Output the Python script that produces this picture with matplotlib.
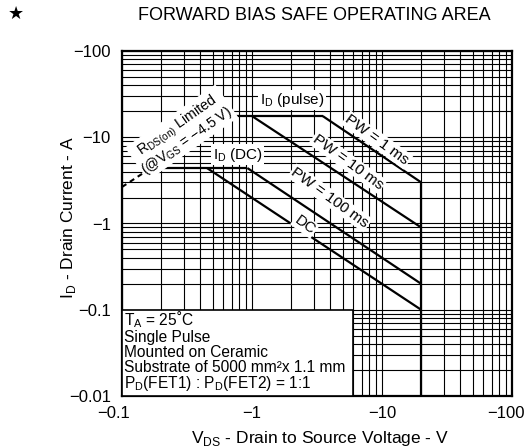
import matplotlib
matplotlib.use("Agg")
import matplotlib.pyplot as plt
import matplotlib.transforms as mtransforms
import numpy as np
from matplotlib.ticker import LogLocator, NullFormatter, FixedLocator, FixedFormatter
from matplotlib.patches import Rectangle

plt.rcParams['font.family'] = ['Liberation Sans', 'DejaVu Sans']
plt.rcParams['mathtext.fontset'] = 'custom'
plt.rcParams['mathtext.rm'] = 'Liberation Sans'

# ---- data (V in volts, I in amperes; negative as on the datasheet) ----
rds_v = [-0.1, -0.68]
rds_i = [-2.65, -17.6]

pulse_v = [-0.68, -3.5]
pulse_i = [-17.6, -17.6]

pw1_v = [-3.5, -20.0]
pw1_i = [-17.6, -3.0]

pw10_v = [-1.0, -20.0]
pw10_i = [-17.6, -0.9]

iddc_v = [-0.17, -0.92]
iddc_i = [-4.4, -4.4]

pw100_v = [-0.92, -20.0]
pw100_i = [-4.4, -0.2]

dc_v = [-0.45, -20.0]
dc_i = [-4.4, -0.1]

vdss_v = [-20.0, -20.0]
vdss_i = [-3.0, -0.01]

x_ticks = [-0.1, -1, -10, -100]
x_ticklabels = ['\u22120.1', '\u22121', '\u221210', '\u2212100']
y_ticks = [-0.01, -0.1, -1, -10, -100]
y_ticklabels = ['\u22120.01', '\u22120.1', '\u22121', '\u221210', '\u2212100']

note_lines = [r'T$_\mathregular{A}$ = 25˚C',
              'Single Pulse',
              'Mounted on Ceramic',
              'Substrate of 5000 mm²x 1.1 mm',
              r'P$_\mathregular{D}$(FET1) : P$_\mathregular{D}$(FET2) = 1:1']

W, H = 529, 448
fig = plt.figure(figsize=(W / 100, H / 100), dpi=100)
ax = fig.add_axes([122 / W, 1 - 396 / H, 390 / W, 345 / H])

ax.set_xscale('log')
ax.set_yscale('log')
ax.set_xlim(0.1, 100)
ax.set_ylim(0.01, 100)

def A(a):
    return -np.asarray(a, dtype=float)

lw = 1.6
ax.plot(A(rds_v), A(rds_i), color='black', lw=1.5, ls=(0, (2.5, 2)), zorder=4)
for v, i in [(pulse_v, pulse_i), (pw1_v, pw1_i), (pw10_v, pw10_i),
             (iddc_v, iddc_i), (pw100_v, pw100_i), (dc_v, dc_i), (vdss_v, vdss_i)]:
    ax.plot(A(v), A(i), color='black', lw=lw, solid_capstyle='butt', zorder=4)

# grid
ax.xaxis.set_minor_locator(LogLocator(base=10, subs=np.arange(2, 10)))
ax.yaxis.set_minor_locator(LogLocator(base=10, subs=np.arange(2, 10)))
ax.xaxis.set_minor_formatter(NullFormatter())
ax.yaxis.set_minor_formatter(NullFormatter())
ax.xaxis.set_major_locator(FixedLocator(A(x_ticks)))
ax.xaxis.set_major_formatter(FixedFormatter(x_ticklabels))
ax.yaxis.set_major_locator(FixedLocator(A(y_ticks)))
ax.yaxis.set_major_formatter(FixedFormatter(y_ticklabels))
ax.grid(which='both', color='black', lw=0.8, zorder=1)
ax.set_axisbelow(True)
ax.tick_params(which='both', length=0, labelsize=12)
ax.tick_params(axis='x', pad=7)
ax.tick_params(axis='y', pad=8)
for s in ax.spines.values():
    s.set_linewidth(1.6)

# nudge the end x tick labels inward, as on the datasheet
xticks_objs = ax.xaxis.get_major_ticks()
for tk, dx in [(xticks_objs[0], -8), (xticks_objs[-1], -6)]:
    lab = tk.label1
    lab.set_transform(lab.get_transform() +
                      mtransforms.ScaledTranslation(dx / 100, 0, fig.dpi_scale_trans))

# note box
ax.add_patch(Rectangle((0, 0), 0.592, 0.249, transform=ax.transAxes,
                       facecolor='white', edgecolor='black', lw=1.2, zorder=5))
for t, yy in zip(note_lines, [0.2058, 0.1574, 0.1139, 0.0687, 0.0223]):
    ax.text(0.006, yy, t, transform=ax.transAxes, fontsize=11.2, va='baseline',
            ha='left', zorder=6)

bb = dict(facecolor='white', edgecolor='none', pad=1.0)
ax.text(0.436, 0.858, r'I$_\mathregular{D}$ (pulse)', transform=ax.transAxes,
        fontsize=11, ha='center', va='center', bbox=bb, zorder=6)
ax.text(0.297, 0.699, r'I$_\mathregular{D}$ (DC)', transform=ax.transAxes,
        fontsize=11, ha='center', va='center', bbox=bb, zorder=6)
ax.text(0.154, 0.762, 'R$_\\mathregular{DS(on)}$ Limited\n(@V$_\\mathregular{GS}$ = \u22124.5 V)',
        transform=ax.transAxes, fontsize=10.3, ha='center', va='center',
        rotation=35, rotation_mode='anchor', linespacing=0.9, bbox=bb, zorder=6)
ax.text(0.654, 0.742, 'PW = 1 ms', transform=ax.transAxes, fontsize=11,
        ha='center', va='center', rotation=-36, rotation_mode='anchor', bbox=bb, zorder=6)
ax.text(0.579, 0.678, 'PW = 10 ms', transform=ax.transAxes, fontsize=11,
        ha='center', va='center', rotation=-36, rotation_mode='anchor', bbox=bb, zorder=6)
ax.text(0.533, 0.574, 'PW = 100 ms', transform=ax.transAxes, fontsize=11,
        ha='center', va='center', rotation=-36, rotation_mode='anchor', bbox=bb, zorder=6)
ax.text(0.469, 0.496, 'DC', transform=ax.transAxes, fontsize=11,
        ha='center', va='center', rotation=-36, rotation_mode='anchor', bbox=bb, zorder=6)

# axis labels and title
fig.text(69 / W, 1 - 217 / H, r'I$_\mathregular{D}$ - Drain Current - A', rotation=90,
         ha='center', va='center', fontsize=12.5)
fig.text(320 / W, 1 - 438 / H, r'V$_\mathregular{DS}$ - Drain to Source Voltage - V',
         ha='center', va='center', fontsize=12.5)
fig.text(314 / W, 1 - 15 / H, 'FORWARD BIAS SAFE OPERATING AREA',
         ha='center', va='center', fontsize=13)
fig.text(16 / W, 1 - 14 / H, '★', ha='center', va='center', fontsize=13,
         family=['DejaVu Sans'])

fig.savefig('out.png', dpi=100)
